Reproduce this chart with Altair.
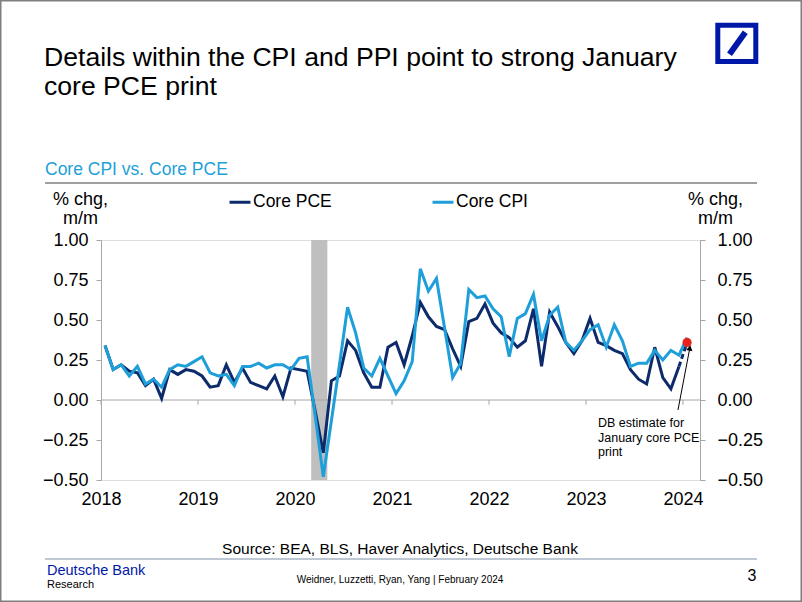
import altair as alt
import pandas as pd

# ---------------- data ----------------
months = [str(p) for p in pd.period_range("2018-01", "2024-01", freq="M")]  # 73 months

core_pce = [0.34, 0.19, 0.22, 0.18, 0.17, 0.09, 0.13, 0.01, 0.19, 0.16, 0.19, 0.18,
            0.15, 0.08, 0.09, 0.22, 0.11, 0.20, 0.11, 0.09, 0.07, 0.15, 0.02, 0.20,
            0.19, 0.18, -0.07, -0.33, 0.12, 0.15, 0.37, 0.31, 0.17, 0.08, 0.08, 0.33,
            0.36, 0.22, 0.40, 0.61, 0.52, 0.46, 0.44, 0.32, 0.21, 0.49, 0.51, 0.60,
            0.48, 0.42, 0.39, 0.33, 0.37, 0.57, 0.21, 0.55, 0.46, 0.36, 0.29, 0.37,
            0.51, 0.36, 0.34, 0.31, 0.29, 0.19, 0.13, 0.10, 0.33, 0.14, 0.07, 0.21]
pce_estimate_month = "2024-01"
pce_estimate = 0.36

core_cpi = [0.34, 0.19, 0.22, 0.15, 0.21, 0.10, 0.13, 0.08, 0.19, 0.22, 0.21, 0.24,
            0.27, 0.17, 0.15, 0.16, 0.09, 0.21, 0.21, 0.23, 0.20, 0.22, 0.22, 0.19,
            0.26, 0.27, -0.10, -0.48, -0.13, 0.22, 0.58, 0.42, 0.20, 0.15, 0.26, 0.15,
            0.04, 0.12, 0.24, 0.82, 0.68, 0.76, 0.45, 0.14, 0.23, 0.69, 0.64, 0.65,
            0.57, 0.52, 0.27, 0.51, 0.54, 0.66, 0.37, 0.53, 0.58, 0.36, 0.31, 0.37,
            0.44, 0.47, 0.33, 0.47, 0.37, 0.21, 0.23, 0.23, 0.31, 0.25, 0.31, 0.28,
            0.39]

recession_start = ["2020-03"]
recession_end = ["2020-05"]
year_ticks = [2018, 2019, 2020, 2021, 2022, 2023, 2024]
y_ticks = [-0.5, -0.25, 0.0, 0.25, 0.5, 0.75, 1.0]
series_names = ["Core PCE", "Core CPI"]

# arrow annotation (tail -> head), in chart units
arrow_from = [2023.948, -0.0625]
arrow_to = [2024.07, 0.325]


def mid_month(m):
    y, mo = m.split("-")
    return int(y) + (int(mo) - 0.5) / 12


def month_start(m):
    y, mo = m.split("-")
    return int(y) + (int(mo) - 1) / 12


# ---------------- styling ----------------
DARK = "#0D2B6B"
LIGHT = "#1E9FDA"
DB_BLUE = "#0018A8"
GREY = "#A6A6A6"
FONT = "Liberation Sans"

pce_df = pd.DataFrame({"t": [mid_month(m) for m in months[:len(core_pce)]],
                       "v": core_pce, "series": "Core PCE"})
cpi_df = pd.DataFrame({"t": [mid_month(m) for m in months], "v": core_cpi, "series": "Core CPI"})
est_df = pd.DataFrame({"t": [mid_month(months[len(core_pce) - 1]), mid_month(pce_estimate_month)],
                       "v": [core_pce[-1], pce_estimate]})
dot_df = pd.DataFrame({"t": [mid_month(pce_estimate_month)], "v": [pce_estimate]})
rec_df = pd.DataFrame({"s": [month_start(m) for m in recession_start],
                       "e": [month_start(m) for m in recession_end]})
tick_df = pd.DataFrame({"t": year_ticks})
arrow_df = pd.DataFrame({"x": [arrow_from[0]], "y": [arrow_from[1]],
                         "x2": [arrow_to[0]], "y2": [arrow_to[1]]})
one = pd.DataFrame({"a": [0]})

x_scale = alt.Scale(domain=[2018.0, 2024.175], nice=False, zero=False)
y_scale = alt.Scale(domain=[-0.5, 1.0], nice=False, zero=False)
x_axis = alt.Axis(values=year_ticks, format="d", domain=False, ticks=False, grid=False,
                  labelFontSize=18, labelPadding=10, title=None, labelColor="black",
                  labelFont=FONT, labelFlush=False, labelOverlap=False)

left_axis = alt.Axis(values=y_ticks, format=".2f", grid=False, domainColor=GREY, tickColor=GREY,
                     tickSize=5, labelFontSize=18, labelPadding=8, labelColor="black", labelFont=FONT,
                     title=["% chg,", "m/m"], titleAngle=0, titleAlign="center", titleBaseline="top",
                     titleX=-21, titleY=-50, titleFontSize=18, titleFontWeight="normal",
                     titleFont=FONT, titleColor="black", titleLineHeight=19, orient="left")
right_axis = alt.Axis(values=y_ticks, format=".2f", grid=False, domainColor=GREY, tickColor=GREY,
                      tickSize=5, labelFontSize=18, labelPadding=12, labelColor="black", labelFont=FONT,
                      title=["% chg,", "m/m"], titleAngle=0, titleAlign="center", titleBaseline="top",
                      titleX=15, titleY=-50, titleFontSize=18, titleFontWeight="normal",
                      titleFont=FONT, titleColor="black", titleLineHeight=19, orient="right")

X = lambda f="t": alt.X(f"{f}:Q", scale=x_scale, axis=x_axis)
color = alt.Color("series:N", scale=alt.Scale(domain=series_names, range=[DARK, LIGHT]),
                  legend=alt.Legend(orient="none", legendX=127, legendY=-50, direction="horizontal",
                                    title=None, symbolType="stroke", symbolStrokeWidth=3,
                                    symbolSize=440, labelFontSize=17.5, labelFont=FONT,
                                    labelColor="black", labelOffset=1, columnPadding=94))

rec = alt.Chart(rec_df).mark_rect(color="#BFBFBF").encode(
    x=X("s"), x2="e:Q",
    y=alt.YDatum(1.0, scale=y_scale, axis=None), y2=alt.Y2Datum(-0.5))

zero = alt.Chart(pd.DataFrame({"v": [0.0]})).mark_rule(color=GREY, strokeWidth=1).encode(
    y=alt.Y("v:Q", scale=y_scale, axis=right_axis))

ticks = alt.Chart(tick_df).mark_rule(color=GREY, strokeWidth=1).encode(
    x=X(), y=alt.YDatum(0, scale=y_scale, axis=None), y2=alt.Y2Datum(-0.03))

pce_line = alt.Chart(pce_df).mark_line(strokeWidth=3).encode(
    x=X(), y=alt.Y("v:Q", scale=y_scale, axis=left_axis), color=color)

est_line = alt.Chart(est_df).mark_line(strokeWidth=3, strokeDash=[5, 3], color=DARK).encode(
    x=X(), y=alt.Y("v:Q", scale=y_scale, axis=None))

cpi_line = alt.Chart(cpi_df).mark_line(strokeWidth=3).encode(
    x=X(), y=alt.Y("v:Q", scale=y_scale, axis=None), color=color)

dot = alt.Chart(dot_df).mark_circle(size=85, color="#E8231B", opacity=1).encode(
    x=X(), y=alt.Y("v:Q", scale=y_scale, axis=None))

arrow = alt.Chart(arrow_df).mark_rule(color="black", strokeWidth=1).encode(
    x=X("x"), x2="x2:Q", y=alt.Y("y:Q", scale=y_scale, axis=None), y2="y2:Q")

arrow_head = alt.Chart(arrow_df).mark_point(shape="triangle-up", filled=True, color="black",
                                            size=40, angle=11, opacity=1).encode(
    x=X("x2"), y=alt.Y("y2:Q", scale=y_scale, axis=None))


def txt(text, x, y, size, color="black", align="left", baseline="middle", font=FONT, **kw):
    return alt.Chart(one).mark_text(text=text, fontSize=size, color=color, align=align,
                                    baseline=baseline, font=font, **kw).encode(
        x=alt.value(x), y=alt.value(y))


# positions relative to the plot area's top-left corner (101, 240 on the page)
title1 = txt("Details within the CPI and PPI point to strong January", -57, -174, 26.6,
             baseline="alphabetic")
title2 = txt("core PCE print", -57, -145, 26.6, baseline="alphabetic")
subtitle = txt("Core CPI vs. Core PCE", -56, -70, 17.5, color=LIGHT)
sub_line = alt.Chart(one).mark_rule(color="#404040", strokeWidth=1).encode(
    x=alt.value(-56), x2=alt.value(656), y=alt.value(-57))

note = txt("DB estimate for\nJanuary core PCE\nprint", 497, 177, 12.5, baseline="top",
           lineBreak="\n", lineHeight=14.5)

source = txt("Source: BEA, BLS, Haver Analytics, Deutsche Bank", 299, 309, 15.5, align="center")
foot_line = alt.Chart(one).mark_rule(color="#A9B6C6", strokeWidth=1.5).encode(
    x=alt.value(-56), x2=alt.value(656), y=alt.value(319))
db_name = txt("Deutsche Bank", -54, 331, 14.5, color=DB_BLUE)
research = txt("Research", -54, 345, 11)
authors = txt("Weidner, Luzzetti, Ryan, Yang  | February 2024", 299, 340, 10, align="center")
page = txt("3", 651, 336, 16, align="center")

logo_box = alt.Chart(one).mark_rect(fill="white", stroke=DB_BLUE, strokeWidth=5).encode(
    x=alt.value(616.8), x2=alt.value(654.8), y=alt.value(-214.8), y2=alt.value(-178.5))
logo_slash = alt.Chart(one).mark_rule(color=DB_BLUE, strokeWidth=6, strokeCap="butt").encode(
    x=alt.value(628.5), x2=alt.value(644.3), y=alt.value(-185.7), y2=alt.value(-207.7))

border = alt.Chart(one).mark_rect(fill=None, stroke="#7F7F7F", strokeWidth=1.5).encode(
    x=alt.value(-100.25), x2=alt.value(700.25), y=alt.value(-239.25), y2=alt.value(361.25))

chart = alt.layer(
    rec, zero, ticks, pce_line, est_line, cpi_line, dot, arrow, arrow_head,
    title1, title2, subtitle, sub_line, note, source, foot_line, db_name, research, authors,
    page, logo_box, logo_slash, border
).resolve_axis(y="independent").properties(
    width=599, height=240,
    padding={"left": 101, "top": 240, "right": 102, "bottom": 122},
    autosize=alt.AutoSizeParams(type="none"),
    background="white",
).configure_view(stroke=None).configure(font=FONT)

chart.save("out.html", embed_options={"renderer": "svg", "actions": False})
